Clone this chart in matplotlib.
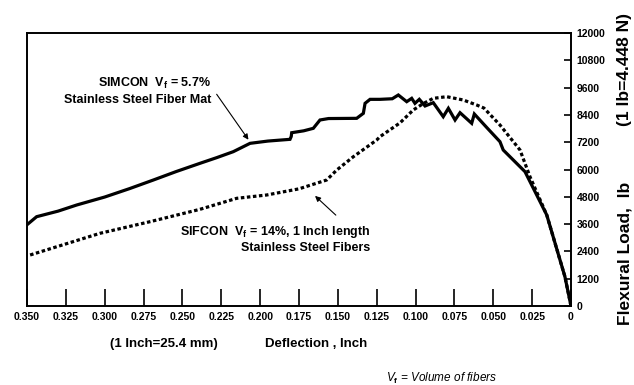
import matplotlib
matplotlib.use("Agg")
import matplotlib.pyplot as plt
from matplotlib.ticker import FixedLocator

# ---- data (deflection in inch, load in lb) ----
simcon_x = [0.3502, 0.3438, 0.3300, 0.3180, 0.3000, 0.2840, 0.2687, 0.2540, 0.2387,
            0.2280, 0.2173, 0.2065, 0.1950, 0.1808, 0.1800, 0.1797, 0.1720, 0.1658,
            0.1615, 0.1560, 0.1379, 0.1336, 0.1325, 0.1293, 0.1229, 0.1150, 0.1111,
            0.1057, 0.1025, 0.1004, 0.0976, 0.0939, 0.0886, 0.0822, 0.0789, 0.0746,
            0.0714, 0.0639, 0.0622, 0.0540, 0.0457, 0.0436, 0.0296, 0.0156, 0.0039, 0.0]
simcon_y = [3560, 3926, 4170, 4440, 4790, 5160, 5538, 5910, 6272,
            6520, 6783, 7150, 7250, 7326, 7450, 7617, 7700, 7810,
            8176, 8240, 8249, 8469, 8908, 9084, 9084, 9110, 9275,
            8981, 9128, 8908, 9084, 8791, 8937, 8322, 8689, 8176,
            8497, 8031, 8440, 7830, 7222, 6857, 5904, 4000, 1288, 0]

sifcon_x = [0.3480, 0.3030, 0.2700, 0.2387, 0.2151, 0.1958, 0.1750, 0.1572, 0.1507,
            0.1400, 0.1250, 0.1229, 0.1100, 0.1015, 0.0950, 0.0886, 0.0800, 0.0693,
            0.0607, 0.0560, 0.0457, 0.0328, 0.0264, 0.0156, 0.0039, 0.0]
sifcon_y = [2242, 3196, 3720, 4250, 4733, 4879, 5150, 5538, 5978,
            6563, 7297, 7443, 8050, 8615, 8900, 9128, 9200, 9055,
            8835, 8700, 7956, 6857, 5684, 4000, 1288, 0]

x_ticks = [0, 0.025, 0.050, 0.075, 0.100, 0.125, 0.150, 0.175, 0.200, 0.225,
           0.250, 0.275, 0.300, 0.325, 0.350]
x_tick_labels = ["0", "0.025", "0.050", "0.075", "0.100", "0.125", "0.150", "0.175",
                 "0.200", "0.225", "0.250", "0.275", "0.300", "0.325", "0.350"]
y_ticks = [0, 1200, 2400, 3600, 4800, 6000, 7200, 8400, 9600, 10800, 12000]
y_tick_labels = ["0", "1200", "2400", "3600", "4800", "6000", "7200", "8400",
                 "9600", "10800", "12000"]

simcon_label = "SIMCON  V$_f$ = 5.7%\nStainless Steel Fiber Mat"
sifcon_label = "SIFCON  V$_f$ = 14%, 1 Inch length\nStainless Steel Fibers"

plt.rcParams['font.family'] = ['Liberation Sans', 'DejaVu Sans']
plt.rcParams['mathtext.fontset'] = 'custom'
plt.rcParams['mathtext.rm'] = 'Liberation Sans:bold'
plt.rcParams['mathtext.it'] = 'Liberation Sans:bold'

fig = plt.figure(figsize=(6.34, 3.85), dpi=100)
ax = fig.add_axes([27 / 634, 1 - 306 / 385, (571 - 27) / 634, (306 - 33) / 385])

ax.plot(simcon_x, simcon_y, color='black', lw=2.3, solid_joinstyle='miter')
ax.plot(sifcon_x, sifcon_y, color='black', lw=2.3, linestyle=(0, (1.1, 0.8)),
        dash_capstyle='butt')

ax.set_xlim(0.35, 0)
ax.set_ylim(0, 12000)

ax.xaxis.set_major_locator(FixedLocator(x_ticks))
ax.set_xticklabels(x_tick_labels, fontsize=7.5, fontweight='bold')
ax.yaxis.tick_right()
ax.yaxis.set_major_locator(FixedLocator(y_ticks))
ax.set_yticklabels(y_tick_labels, fontsize=7.5, fontweight='bold')
ax.tick_params(axis='x', direction='in', length=12, width=1.2, pad=4.5)
ax.tick_params(axis='y', direction='in', length=5, width=1.2, pad=4)
for s in ax.spines.values():
    s.set_linewidth(1.4)

# annotations
ax.annotate("", xy=(0.2065, 7209), xytext=(0.2290, 9407),
            arrowprops=dict(arrowstyle='-|>', color='black', lw=0.8,
                            mutation_scale=8))
ax.text(0.2316, 9462, simcon_label, ha='right', va='center', multialignment='right',
        fontsize=9, fontweight='bold', linespacing=1.3)

ax.annotate("", xy=(0.166, 4923), xytext=(0.150, 3912),
            arrowprops=dict(arrowstyle='-|>', color='black', lw=0.8,
                            mutation_scale=8))
ax.text(0.1293, 2945, sifcon_label, ha='right', va='center', multialignment='right',
        fontsize=9, fontweight='bold', linespacing=1.3)

# axis labels (placed as in the reference)
fig.text(367 / 634, 1 - 344 / 385, "Deflection , Inch", ha='right', va='center',
         fontsize=9.5, fontweight='bold')
fig.text(218 / 634, 1 - 344 / 385, "(1 Inch=25.4 mm)", ha='right', va='center',
         fontsize=9.5, fontweight='bold')
fig.text(625 / 634, 1 - 253 / 385, "Flexural Load,  lb", ha='center', va='center',
         rotation=90, fontsize=12.5, fontweight='bold')
fig.text(625 / 634, 1 - 70 / 385, "(1 lb=4.448 N)", ha='center', va='center',
         rotation=90, fontsize=12.5, fontweight='bold')
fig.text(442 / 634, 1 - 378 / 385, "V$_f$ = Volume of fibers", ha='center',
         va='center', fontsize=8.5, style='italic')

fig.savefig("out.png", dpi=100)
